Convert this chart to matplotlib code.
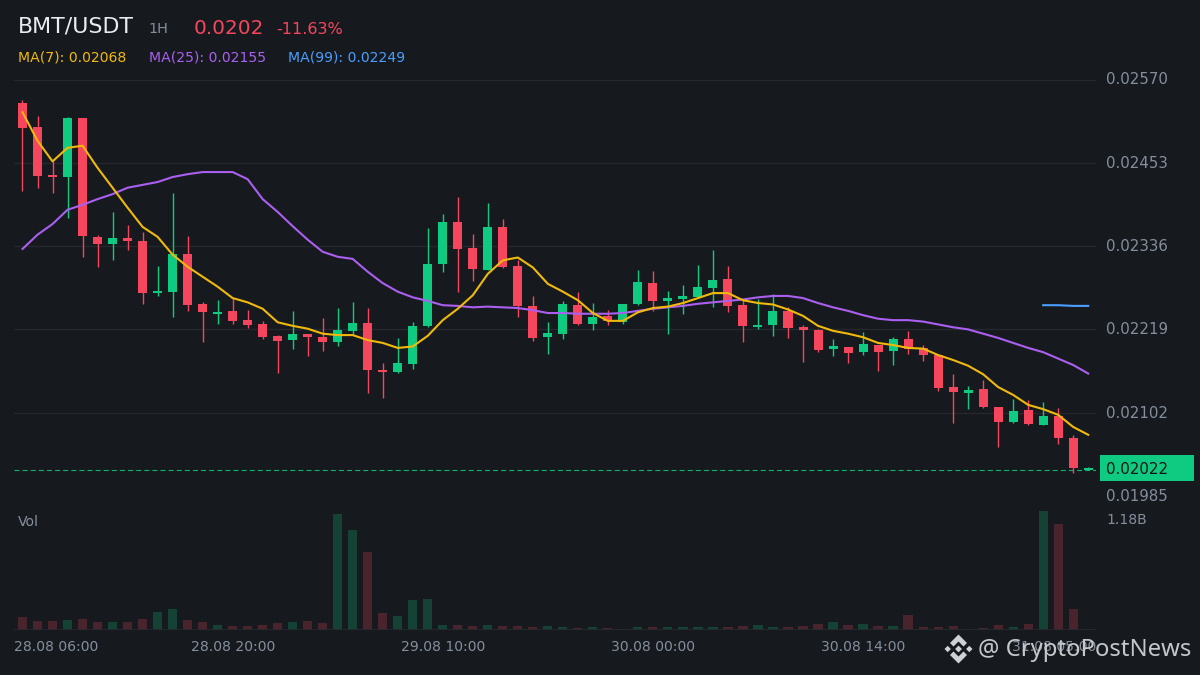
import numpy as np
import matplotlib
matplotlib.use("Agg")
import matplotlib.pyplot as plt
from matplotlib.patches import Rectangle, Polygon
from matplotlib.transforms import blended_transform_factory, ScaledTranslation

# ---- data (prices in units of 0.00001 USDT) ----
highs = [2541,2519,2455,2517,2516,2352,2384,2366,2356,2308,2411,2350,2257,2260,2263,2246,2231,2211,2245,2213,2235,2249,2257,
         2249,2172,2207,2229,2361,2381,2405,2353,2397,2374,2316,2266,2229,2259,2272,2256,2246,2255,2302,2301,2273,2281,2309,2331,2308,
         2262,2262,2269,2250,2225,2220,2206,2194,2215,2197,2208,2217,2197,2183,2156,2139,2148,2110,2121,2120,2117,2109,2071,2026]
tops = [2537,2503,2436,2516,2516,2349,2347,2347,2343,2273,2325,2325,2255,2243,2245,2232,2227,2210,2213,2213,2208,2218,2228,
        2228,2162,2172,2224,2311,2370,2370,2333,2363,2363,2308,2252,2214,2255,2253,2236,2238,2255,2286,2284,2263,2266,2279,2288,2290,
        2253,2225,2245,2245,2222,2218,2196,2194,2198,2197,2205,2205,2193,2183,2138,2134,2135,2110,2104,2106,2097,2097,2066,2024]
bottoms = [2502,2434,2433,2433,2350,2339,2339,2343,2270,2270,2272,2253,2243,2241,2231,2225,2208,2203,2204,2208,2201,2201,2217,
           2162,2159,2159,2170,2224,2311,2332,2304,2302,2307,2252,2207,2208,2213,2227,2227,2231,2229,2255,2259,2259,2262,2265,2277,2252,
           2224,2222,2225,2221,2218,2190,2191,2186,2187,2187,2189,2191,2183,2137,2131,2130,2110,2089,2089,2086,2085,2066,2024,2022]
lows = [2414,2418,2411,2376,2321,2307,2317,2331,2255,2266,2237,2245,2202,2227,2226,2221,2205,2158,2192,2182,2189,2195,2211,
        2130,2123,2158,2163,2222,2300,2272,2287,2302,2305,2236,2203,2184,2206,2225,2218,2225,2227,2253,2245,2213,2241,2265,2251,2243,
        2202,2220,2210,2207,2173,2187,2182,2172,2183,2161,2169,2184,2175,2133,2088,2107,2109,2054,2088,2085,2085,2058,2017,2022]
is_up = [0,0,0,1,0,0,1,0,0,1,1,0,0,1,0,0,0,0,1,0,0,1,1,
         0,0,1,1,1,1,0,0,1,0,0,0,1,1,0,1,0,1,1,0,1,1,1,1,0,
         0,1,1,0,0,0,1,0,1,0,1,0,0,0,0,1,0,0,1,0,1,0,0,1]
ma7 = [2524,2484,2455,2474,2477,2446,2418,2390,2363,2349,2324,2307,2293,2279,2263,2257,2248,2229,2224,2220,2213,2211,2211,
       2204,2200,2193,2195,2210,2232,2248,2267,2297,2316,2320,2306,2283,2272,2260,2242,2231,2231,2243,2249,2251,2256,2263,2270,2270,
       2260,2256,2254,2247,2238,2224,2217,2213,2208,2200,2197,2193,2192,2183,2176,2168,2156,2138,2127,2113,2107,2099,2082,2071]
ma25 = [2332,2352,2367,2387,2394,2402,2409,2418,2422,2426,2433,2437,2440,2440,2440,2430,2402,2384,2364,2345,2328,2321,2318,
        2300,2284,2272,2264,2259,2253,2252,2250,2251,2250,2249,2246,2242,2242,2241,2241,2241,2242,2245,2248,2250,2252,2255,2257,2259,
        2261,2264,2266,2266,2263,2256,2250,2245,2239,2234,2232,2232,2230,2226,2222,2219,2213,2207,2200,2193,2187,2178,2169,2157]
ma99_index = [68,69,70,71]
ma99 = [2253,2253,2252,2252]
volumes_b = [0.123,0.083,0.083,0.093,0.103,0.073,0.073,0.073,0.103,0.173,0.203,0.093,0.073,0.043,0.033,0.033,0.043,0.063,0.073,0.083,0.063,
             1.153,0.993,0.773,0.163,0.133,0.293,0.303,0.043,0.043,0.033,0.043,0.033,0.033,0.023,0.033,0.023,0.013,0.023,
             0.013,0.010,0.023,0.023,0.023,0.023,0.023,0.023,0.023,0.033,0.043,0.023,0.023,0.033,0.053,0.073,0.043,0.053,0.033,0.033,0.143,
             0.023,0.023,0.033,0.010,0.013,0.043,0.023,0.053,1.183,1.053,0.203,0.010]
price_ticks = [0.02570,0.02453,0.02336,0.02219,0.02102,0.01985]
last_price = 0.02022
time_ticks = [0,14,28,42,56,71]
time_labels = ["28.08 06:00","28.08 20:00","29.08 10:00","30.08 00:00","30.08 14:00","31.08 05:00"]

UNIT = 1e-5
BG, GREEN, RED = "#161a1e", "#0ecb81", "#f6465d"
GRID, GREY = "#25292e", "#848e9c"
ORANGE, PURPLE, BLUE = "#f0b90b", "#ab5ff0", "#4a9eff"
W, H = 1200, 675

fig = plt.figure(figsize=(W/100, H/100), dpi=100, facecolor=BG)
plt.rcParams['font.family'] = 'DejaVu Sans'

def axes_px(x0, y0, x1, y1):
    return fig.add_axes([x0/W, 1-y1/H, (x1-x0)/W, (y1-y0)/H])
def label(x, y, s, **kw):
    kw.setdefault('va', 'center')
    return fig.text(x/W, 1-y/H, s, **kw)

ax = axes_px(14, 79.5, 1096, 496)
axv = axes_px(14, 496, 1096, 630)
xlim = (-0.566, 71.52)
for a in (ax, axv):
    a.set_facecolor('none')
    a.set_xlim(*xlim)
    for s in a.spines.values():
        s.set_visible(False)
    a.set_xticks([])

x = np.arange(len(tops))
tops_p, bottoms_p = np.array(tops)*UNIT, np.array(bottoms)*UNIT
highs_p, lows_p = np.array(highs)*UNIT, np.array(lows)*UNIT
colors = [GREEN if u else RED for u in is_up]

ax.set_ylim(price_ticks[-1], price_ticks[0])
ax.set_yticks(price_ticks)
ax.set_yticklabels([f"{p:.5f}" for p in price_ticks])
ax.yaxis.tick_right()
ax.tick_params(axis='y', length=0, pad=7.2, labelsize=10.8, labelcolor=GREY)
ax.grid(axis='y', color=GRID, lw=1)
ax.set_axisbelow(True)
shift_up = ScaledTranslation(0, 1.2/100, fig.dpi_scale_trans)
for t in ax.yaxis.get_major_ticks():
    t.label2.set_transform(t.label2.get_transform() + shift_up)

ax.axhline(last_price, color=GREEN, lw=0.8, alpha=0.85, dashes=(4.5, 2.8), zorder=1.5)
ax.vlines(x, lows_p, highs_p, colors=colors, lw=1.0, zorder=2)
ax.bar(x, tops_p-bottoms_p, bottom=bottoms_p, width=0.6, color=colors, lw=0, zorder=3)
ax.plot(x, np.array(ma25)*UNIT, color=PURPLE, lw=1.5, zorder=4)
ax.plot(x, np.array(ma7)*UNIT, color=ORANGE, lw=1.5, zorder=5)
ax.plot(ma99_index, np.array(ma99)*UNIT, color=BLUE, lw=1.5, zorder=4)

axv.set_ylim(-0.005, 1.335)
axv.set_yticks([])
axv.bar(x, volumes_b, width=0.61, color=colors, alpha=0.235, lw=0)
axv.plot(xlim, [-0.005, -0.005], color=GRID, lw=2, clip_on=True)

# header
label(18, 27, "BMT/USDT", color="#eaecef", fontsize=15.9)
label(148, 29, "1H", color=GREY, fontsize=10.4)
label(194, 28, "0.0202", color=RED, fontsize=14.4)
label(276, 29, "-11.63%", color=RED, fontsize=11.5)
label(18, 57.5, "MA(7): 0.02068", color=ORANGE, fontsize=10.1)
label(149, 57.5, "MA(25): 0.02155", color=PURPLE, fontsize=10.1)
label(288, 57.5, "MA(99): 0.02249", color=BLUE, fontsize=10.1)
label(18, 522, "Vol", color=GREY, fontsize=10.1)
label(1106, 520.5, "1.18B", color=GREY, fontsize=10.1)

# last price tag
fig.add_artist(Rectangle((1100/W, 1-481/H), 94/W, 26/H, transform=fig.transFigure, color=GREEN, lw=0))
label(1106, 469, f"{last_price:.5f}", color="#111417", fontsize=10.8)

# time axis
tr = blended_transform_factory(axv.transData, fig.transFigure)
for i, (t, s) in enumerate(zip(time_ticks, time_labels)):
    ha, xp = 'center', t
    if i == 0:
        ha, xp = 'left', xlim[0]
    elif i == len(time_ticks)-1:
        ha, xp = 'right', xlim[1]
    axv.text(xp, 1-647/H, s, transform=tr, color=GREY, fontsize=10.1, ha=ha, va='center', clip_on=False)

# watermark
WM = "#cfd1d4"
label(977.5, 649.5, "@ CryptoPostNews", color=WM, fontsize=17.2, family="Noto Sans", alpha=0.95)
ov = fig.add_axes([0, 0, 1, 1], facecolor='none')
ov.set_xlim(0, W); ov.set_ylim(H, 0); ov.axis('off')
c = (958.5, 649)
def dia(cx, cy, r):
    return [(cx, cy-r), (cx+r, cy), (cx, cy+r), (cx-r, cy)]
for cx, cy, r in [(c[0]-10.8, c[1], 3.2), (c[0]+10.8, c[1], 3.2), (c[0], c[1], 3.4)]:
    ov.add_patch(Polygon(dia(cx, cy, r), color=WM, lw=0))
top_chev = [(c[0], c[1]-14.5), (c[0]+8.5, c[1]-6), (c[0]+5, c[1]-2.5), (c[0], c[1]-7.5), (c[0]-5, c[1]-2.5), (c[0]-8.5, c[1]-6)]
bot_chev = [(c[0], c[1]+14.5), (c[0]+8.5, c[1]+6), (c[0]+5, c[1]+2.5), (c[0], c[1]+7.5), (c[0]-5, c[1]+2.5), (c[0]-8.5, c[1]+6)]
ov.add_patch(Polygon(top_chev, color=WM, lw=0))
ov.add_patch(Polygon(bot_chev, color=WM, lw=0))

fig.savefig("out.png", dpi=100, facecolor=BG)
